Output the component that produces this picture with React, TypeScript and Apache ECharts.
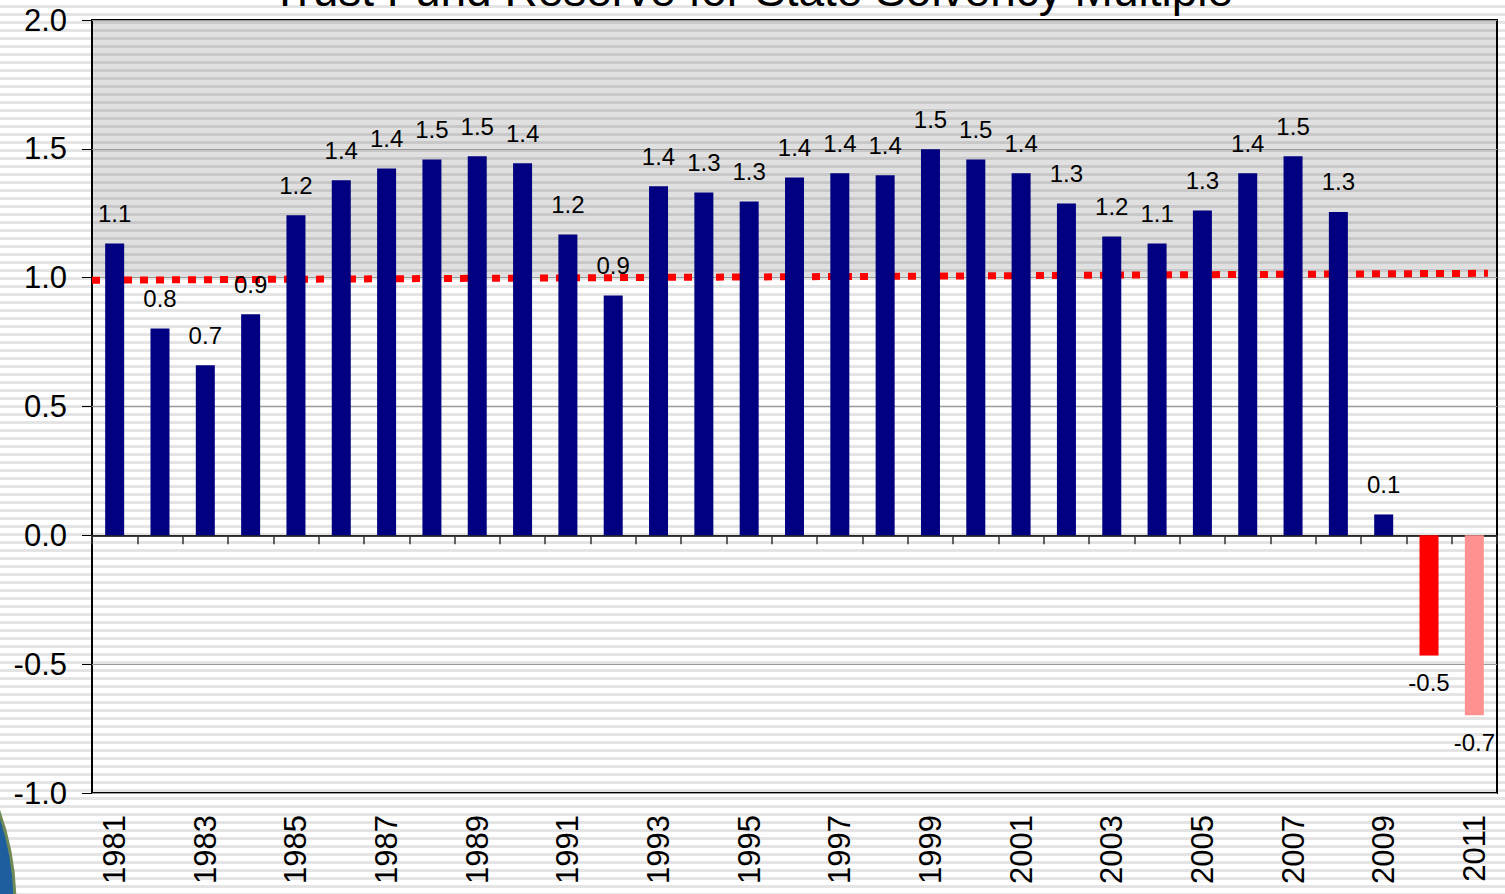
import React, { useEffect, useRef } from "react";
import * as echarts from "echarts";

const years = [
  "1981", "1982", "1983", "1984", "1985", "1986", "1987", "1988", "1989", "1990",
  "1991", "1992", "1993", "1994", "1995", "1996", "1997", "1998", "1999", "2000",
  "2001", "2002", "2003", "2004", "2005", "2006", "2007", "2008", "2009", "2010", "2011",
];

const multiples = [
  1.133, 0.803, 0.66, 0.858, 1.242, 1.378, 1.424, 1.459, 1.471, 1.444,
  1.168, 0.931, 1.355, 1.331, 1.296, 1.389, 1.405, 1.397, 1.498, 1.459,
  1.405, 1.288, 1.16, 1.133, 1.261, 1.405, 1.471, 1.255, 0.081, -0.466, -0.698,
];

// solvency threshold trend (start / end of dotted line)
const thresholdLine = [
  [0, 0.99],
  [30.8, 1.017],
];

const yTicks = { min: -1, max: 2, interval: 0.5 };
const projectedYear = "2011";
const titleText = "Trust Fund Reserve for State Solvency Multiple";

const FONT = "'Liberation Sans', Arial, sans-serif";

export default function App() {
  const ref = useRef<HTMLDivElement>(null);

  useEffect(() => {
    const chart = echarts.init(ref.current as HTMLDivElement, null, { renderer: "svg" });

    const barData = multiples.map((v, i) => {
      const neg = v < 0;
      const projected = years[i] === projectedYear;
      return {
        value: v,
        itemStyle: { color: projected ? "#ff9191" : neg ? "#ff0000" : "#000080" },
        label: {
          position: neg ? "bottom" : "top",
          distance: neg ? 15 : 18,
        },
      };
    });

    chart.setOption({
      animation: false,
      backgroundColor: "transparent",
      textStyle: { fontFamily: FONT },
      grid: {
        left: 92,
        right: 8,
        top: 20,
        bottom: 101,
        show: true,
        borderColor: "#000",
        borderWidth: 2,
        backgroundColor: "transparent",
      },
      graphic: [
        {
          type: "circle",
          z: -10,
          shape: { cx: -265, cy: 905, r: 280 },
          style: { fill: "#1f5e9e", stroke: "#6f8a55", lineWidth: 3 },
        },
        {
          type: "text",
          x: 752,
          y: 13,
          style: {
            text: titleText,
            fontSize: 46,
            fontFamily: FONT,
            fill: "#000",
            align: "center",
            verticalAlign: "bottom",
          },
        },
      ],
      xAxis: [
        {
          type: "category",
          data: years,
          position: "bottom",
          axisLine: { show: false, onZero: false },
          axisTick: { show: false },
          splitLine: { show: false },
          axisLabel: {
            rotate: 90,
            interval: 1,
            fontSize: 31,
            margin: 22,
            color: "#000",
            fontFamily: FONT,
          },
        },
        {
          type: "category",
          data: years,
          position: "bottom",
          axisLine: { show: true, onZero: true, lineStyle: { color: "#000", width: 1.5 } },
          axisTick: { show: true, interval: 0, length: 9, lineStyle: { color: "#333", width: 1.5 } },
          axisLabel: { show: false },
          splitLine: { show: false },
        },
        {
          type: "value",
          min: 0,
          max: years.length,
          show: false,
        },
      ],
      yAxis: {
        type: "value",
        min: yTicks.min,
        max: yTicks.max,
        interval: yTicks.interval,
        axisLine: { show: false },
        axisTick: { show: true, length: 10, lineStyle: { color: "#000" } },
        axisLabel: {
          fontSize: 31,
          margin: 25,
          color: "#000",
          fontFamily: FONT,
          formatter: (v: number) => v.toFixed(1),
        },
        splitLine: { show: true, lineStyle: { color: "#9a9a9a", width: 1 } },
        splitArea: {
          show: true,
          areaStyle: {
            color: [
              "rgba(0,0,0,0)",
              "rgba(0,0,0,0)",
              "rgba(0,0,0,0)",
              "rgba(0,0,0,0)",
              "rgba(0,0,0,0.12)",
              "rgba(0,0,0,0.12)",
            ],
          },
        },
      },
      series: [
        {
          type: "line",
          xAxisIndex: 2,
          data: thresholdLine,
          symbol: "none",
          silent: true,
          z: 1,
          lineStyle: { color: "#ff0000", width: 7, type: [8, 8] },
        },
        {
          type: "bar",
          xAxisIndex: 0,
          data: barData,
          barWidth: 19,
          z: 3,
          label: {
            show: true,
            fontSize: 24,
            color: "#000",
            fontFamily: FONT,
            formatter: (p: any) => Number(p.value).toFixed(1),
          },
        },
      ],
    });

    return () => chart.dispose();
  }, []);

  return (
    <div
      ref={ref}
      style={{
        position: "fixed",
        left: 0,
        top: 0,
        width: 1505,
        height: 894,
        background:
          "repeating-linear-gradient(to bottom, #ffffff 0px, #ffffff 5px, #e4e4e4 5px, #e4e4e4 8px)",
      }}
    />
  );
}
